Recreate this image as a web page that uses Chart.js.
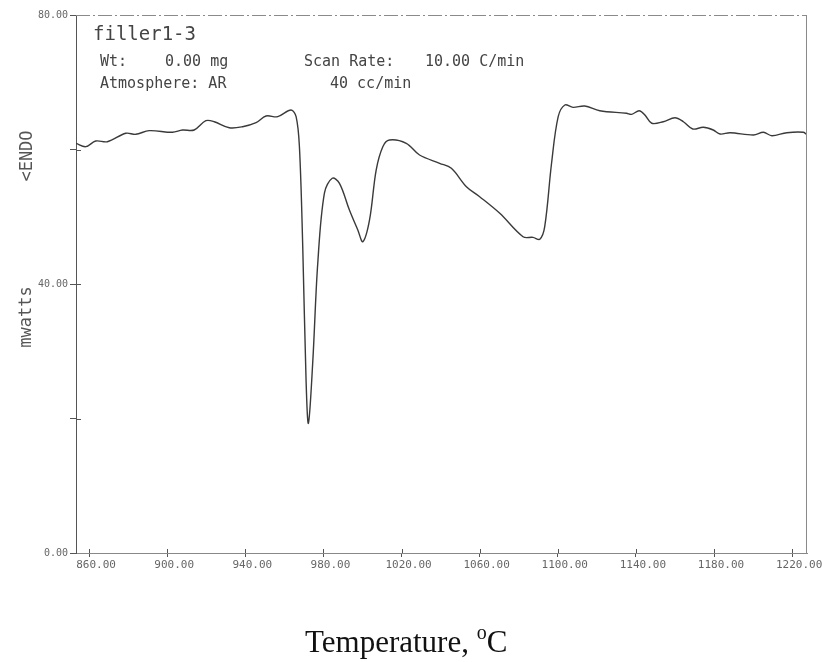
<!DOCTYPE html>
<html>
<head>
  <title>filler1-3 DSC scan</title>
  <script src="https://cdn.jsdelivr.net/npm/chart.js"></script>
  <style>
    body { margin: 0; background: #fff; }
  </style>
</head>
<body>
  <canvas id="dscChart" width="822" height="662"></canvas>

  <script>
    // curve (temperature in C, heat flow in mwatts)
    const temps = [853.3, 858.3, 863.4, 869.4, 878.8, 883.9, 890.8, 902.7, 907.8, 913.8,
      919.8, 924.1, 931.8, 938.6, 945.5, 950.6, 956.6, 963.4, 966.0, 967.7,
      969.4, 971.1, 972.3, 974.5, 977.1, 980.5, 984.5, 988.2, 993.3, 997.6,
      1000.2, 1003.6, 1007.0, 1010.4, 1013.8, 1022.4, 1029.2, 1039.5, 1045.5, 1053.2,
      1060.0, 1070.3, 1082.2, 1087.3, 1090.8, 1093.3, 1096.8, 1100.2, 1103.6, 1107.8,
      1113.8, 1121.5, 1135.2, 1137.8, 1141.7, 1144.6, 1148.1, 1154.0, 1160.0, 1164.3,
      1169.1, 1174.5, 1179.6, 1183.1, 1188.2, 1200.2, 1205.3, 1209.6, 1217.3, 1225.8, 1227.6];
    const mwatts = [60.92, 60.42, 61.26, 61.16, 62.41, 62.26, 62.80, 62.56, 62.90, 62.90,
      64.28, 64.13, 63.24, 63.39, 63.99, 64.98, 64.88, 65.87, 64.88, 60.42,
      45.55, 25.72, 19.29, 28.25, 43.12, 53.53, 55.72, 54.97, 51.00, 48.03,
      46.29, 49.52, 56.95, 60.42, 61.41, 60.92, 59.18, 57.95, 57.20, 54.47,
      52.98, 50.51, 47.03, 46.94, 46.65, 48.52, 57.95, 64.88, 66.62, 66.27,
      66.47, 65.77, 65.38, 65.23, 65.77, 65.13, 63.90, 64.13, 64.73, 64.13,
      63.05, 63.30, 62.90, 62.30, 62.50, 62.16, 62.56, 62.05, 62.50, 62.56, 62.16];

    const xTicks = [860, 900, 940, 980, 1020, 1060, 1100, 1140, 1180, 1220];
    const yTicks = [0, 20, 40, 60, 80];
    const yLabelled = [0, 40, 80];

    const mono = '"DejaVu Sans Mono", monospace';

    const plotterDecor = {
      id: 'plotterDecor',
      afterDraw(chart) {
        const ctx = chart.ctx;
        const area = chart.chartArea;
        const xs = chart.scales.x;
        const ys = chart.scales.y;
        ctx.save();

        // frame: dashed top, thin right edge
        ctx.strokeStyle = '#8a8a8a';
        ctx.lineWidth = 1;
        ctx.setLineDash([14, 3, 2, 3]);
        ctx.beginPath();
        ctx.moveTo(area.left, area.top + 0.5);
        ctx.lineTo(area.right, area.top + 0.5);
        ctx.stroke();
        ctx.setLineDash([]);
        ctx.beginPath();
        ctx.moveTo(area.right - 0.5, area.top);
        ctx.lineTo(area.right - 0.5, area.bottom);
        ctx.stroke();

        // inward half of the cross ticks
        ctx.strokeStyle = '#555';
        ctx.beginPath();
        yTicks.forEach(v => {
          if (v === 0 || v === 80) return;
          const py = Math.round(ys.getPixelForValue(v)) + 0.5;
          ctx.moveTo(area.left, py);
          ctx.lineTo(area.left + 5, py);
        });
        xTicks.forEach(v => {
          const px = Math.round(xs.getPixelForValue(v)) + 0.5;
          ctx.moveTo(px, area.bottom);
          ctx.lineTo(px, area.bottom - 4);
        });
        ctx.stroke();

        // run header
        ctx.fillStyle = '#444';
        ctx.textBaseline = 'alphabetic';
        ctx.textAlign = 'left';
        ctx.font = '19px ' + mono;
        ctx.fillText('filler1-3', 93, 40);
        ctx.font = '15px ' + mono;
        ctx.fillText('Wt:', 100, 66);
        ctx.fillText('0.00 mg', 165, 66);
        ctx.fillText('Scan Rate:', 304, 66);
        ctx.fillText('10.00 C/min', 425, 66);
        ctx.fillText('Atmosphere: AR', 100, 88);
        ctx.fillText('40 cc/min', 330, 88);

        // y axis captions
        ctx.font = '17px ' + mono;
        ctx.fillStyle = '#555';
        ctx.textAlign = 'center';
        ctx.textBaseline = 'middle';
        ctx.save();
        ctx.translate(27, 317);
        ctx.rotate(-Math.PI / 2);
        ctx.fillText('mwatts', 0, 0);
        ctx.restore();
        ctx.save();
        ctx.translate(28, 156);
        ctx.rotate(-Math.PI / 2);
        ctx.fillText('<ENDO', 0, 0);
        ctx.restore();

        // x axis title with raised degree o
        ctx.fillStyle = '#111';
        ctx.textAlign = 'left';
        ctx.textBaseline = 'alphabetic';
        const serif = '"Liberation Serif", "Times New Roman", serif';
        ctx.font = '31px ' + serif;
        const main = 'Temperature, ';
        let tx = 305;
        ctx.fillText(main, tx, 652);
        tx += ctx.measureText(main).width;
        ctx.font = '20px ' + serif;
        ctx.fillText('o', tx, 639);
        tx += ctx.measureText('o').width;
        ctx.font = '31px ' + serif;
        ctx.fillText('C', tx, 652);

        ctx.restore();
      }
    };

    const ctx = document.getElementById('dscChart').getContext('2d');
    new Chart(ctx, {
      type: 'line',
      data: {
        datasets: [{
          label: 'filler1-3',
          data: temps.map((t, i) => ({ x: t, y: mwatts[i] })),
          borderColor: '#3a3a3a',
          borderWidth: 1.4,
          pointRadius: 0,
          tension: 0.35,
          fill: false
        }]
      },
      options: {
        responsive: false,
        animation: false,
        layout: {
          padding: { left: 0, top: 15, right: 15, bottom: 0 }
        },
        plugins: {
          legend: { display: false },
          tooltip: { enabled: false }
        },
        scales: {
          x: {
            type: 'linear',
            min: 853.3,
            max: 1227.6,
            afterBuildTicks: scale => {
              scale.ticks = xTicks.map(v => ({ value: v }));
            },
            afterFit: scale => { scale.height = 109; },
            ticks: {
              callback: v => v.toFixed(2),
              font: { family: 'DejaVu Sans Mono', size: 11 },
              color: '#666',
              padding: 2,
              labelOffset: 7,
              maxRotation: 0,
              autoSkip: false
            },
            grid: {
              drawOnChartArea: false,
              tickLength: 4,
              color: '#555'
            },
            border: { color: '#888', width: 1 }
          },
          y: {
            min: 0,
            max: 80,
            afterBuildTicks: scale => {
              scale.ticks = yTicks.map(v => ({ value: v }));
            },
            afterFit: scale => { scale.width = 76; },
            ticks: {
              callback: v => yLabelled.includes(v) ? v.toFixed(2) : '',
              font: { family: 'DejaVu Sans Mono', size: 10 },
              color: '#666',
              padding: 2
            },
            grid: {
              drawOnChartArea: false,
              tickLength: 6,
              color: '#555'
            },
            border: { color: '#555', width: 1 }
          }
        }
      },
      plugins: [plotterDecor]
    });
  </script>
</body>
</html>
